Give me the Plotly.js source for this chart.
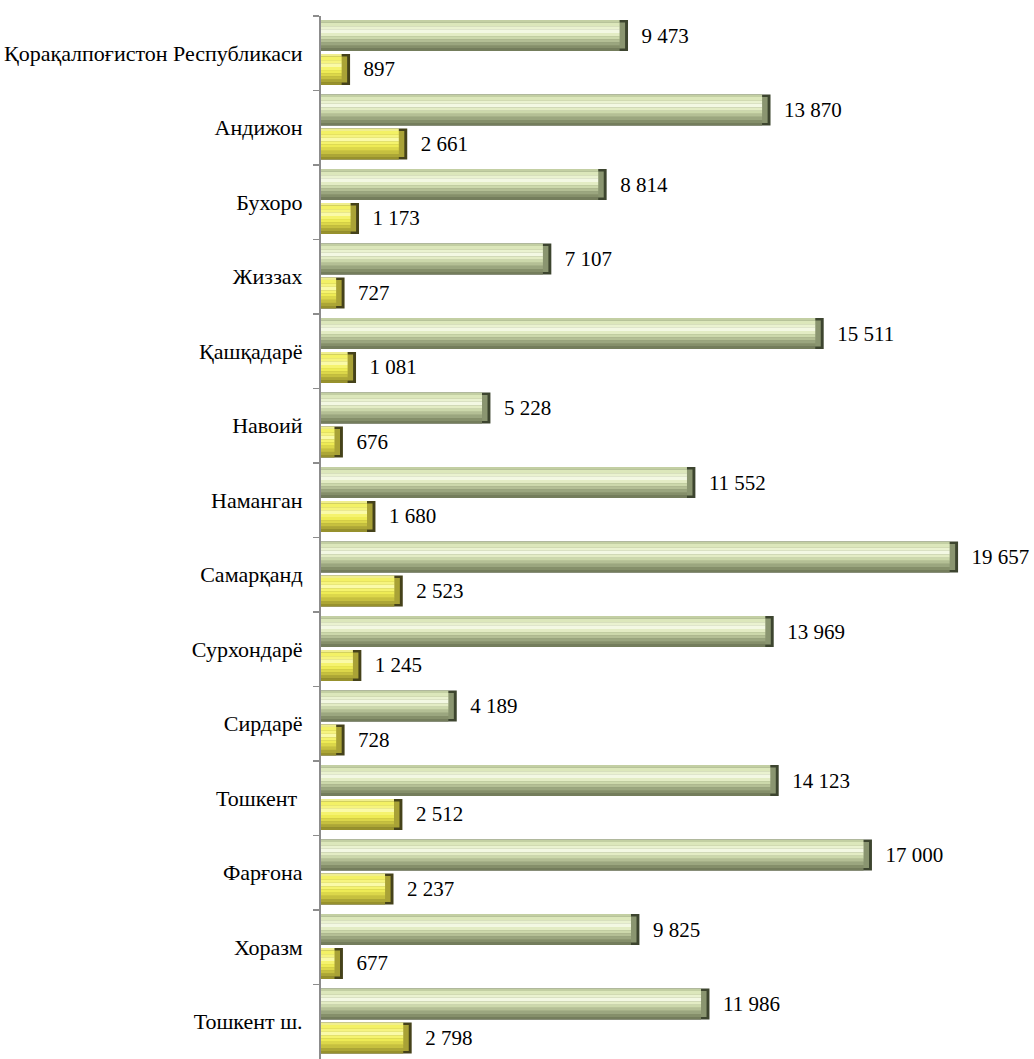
<!DOCTYPE html>
<html>
<head>
<meta charset="utf-8">
<script src="https://cdn.plot.ly/plotly-3.0.1.min.js"></script>
<style>html,body{margin:0;padding:0;background:#fff;}#chart{width:1034px;height:1059px;}</style>
</head>
<body>
<div id="chart"></div>
<script>
const categories = ["Қорақалпоғистон Республикаси","Андижон","Бухоро","Жиззах","Қашқадарё","Навоий","Наманган","Самарқанд","Сурхондарё","Сирдарё","Тошкент\u00a0","Фарғона","Хоразм","Тошкент ш."];
const greenValues = [9473,13870,8814,7107,15511,5228,11552,19657,13969,4189,14123,17000,9825,11986];
const yellowValues = [897,2661,1173,727,1081,676,1680,2523,1245,728,2512,2237,677,2798];

function fmt(v){ return String(v).replace(/\B(?=(\d{3})+(?!\d))/g, " "); }

const FONT = "Liberation Serif";
const H = 0.416;
const endDark = 90;
const endBevel = 260;

function bevelTraces(vals, off, palette){
  const base = {type:'bar', orientation:'h', y:categories, hoverinfo:'skip'};
  const mid = vals.map(v => v - endDark);
  const inner = vals.map(v => v - endBevel);
  const traces = [
    Object.assign({}, base, {x:vals, offset:off, width:H, marker:{color:palette.tip, line:{width:0}},
      text: vals.map(v => '\u00a0\u00a0' + fmt(v)), textposition:'outside', cliponaxis:false,
      textfont:{family:FONT, size:21, color:'#000'}}),
    Object.assign({}, base, {x:mid, offset:off+0.08*H, width:0.84*H, marker:{color:palette.end, line:{width:0}}})
  ];
  palette.strips.forEach(s => {
    traces.push(Object.assign({}, base, {x:inner, offset:off+s[0]*H, width:(s[1]-s[0])*H,
      marker:{color:s[2], line:{width:0}}}));
  });
  return traces;
}

const greenPalette = {tip:'#3d452f', end:'#8a9570', strips:[
  [0.00,0.08,'#c3cfa3'],[0.08,0.20,'#dce7bb'],[0.20,0.30,'#eaf2d0'],[0.30,0.42,'#f3f8e3'],
  [0.42,0.52,'#e3ecc4'],[0.52,0.62,'#ccd8ab'],[0.62,0.72,'#b4bf95'],[0.72,0.82,'#9ba67f'],
  [0.82,0.92,'#858f6a'],[0.92,1.00,'#747d5c']]};
const yellowPalette = {tip:'#45421a', end:'#a9a236', strips:[
  [0.00,0.08,'#f0ee8e'],[0.08,0.20,'#f3f165'],[0.20,0.30,'#f6f47e'],[0.30,0.42,'#fafaa8'],
  [0.42,0.52,'#f5f36e'],[0.52,0.62,'#eeeb55'],[0.62,0.72,'#dcd74a'],[0.72,0.82,'#c6c03f'],
  [0.82,0.92,'#aca636'],[0.92,1.00,'#97912d']]};

const data = [].concat(
  bevelTraces(greenValues, -0.446, greenPalette),
  bevelTraces(yellowValues, 0.01, yellowPalette)
);

const layout = {
  width:1034, height:1059,
  margin:{l:321, r:0, t:16, b:0},
  paper_bgcolor:'#fff', plot_bgcolor:'#fff',
  barmode:'overlay', showlegend:false,
  font:{family:FONT},
  xaxis:{range:[0,22000], visible:false, showgrid:false, zeroline:false},
  yaxis:{type:'category', autorange:'reversed', showgrid:false, zeroline:false,
    showline:true, linecolor:'#8c8c8c', linewidth:2,
    ticks:'outside', tickson:'boundaries', ticklen:6, tickcolor:'#8c8c8c', tickwidth:1.5,
    ticklabelstandoff:12,
    tickfont:{family:FONT, size:22, color:'#000'}}
};

Plotly.newPlot('chart', data, layout, {staticPlot:true});
</script>
</body>
</html>
